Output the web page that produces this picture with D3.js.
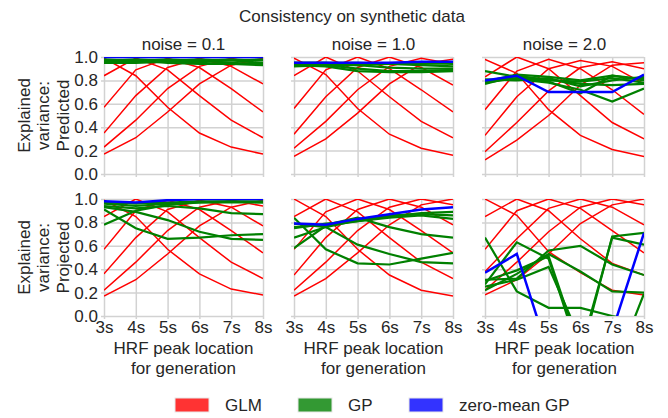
<!DOCTYPE html>
<html>
<head>
<meta charset="utf-8">
<script src="https://cdn.jsdelivr.net/npm/d3@7"></script>
<style>
  body { margin: 0; background: #fff; }
  text { font-family: "Liberation Sans", Arial, sans-serif; fill: #262626; }
  .grid line { stroke: #d2d2d2; stroke-width: 1.5; }
  .grid path { display: none; }
</style>
</head>
<body>
<div id="chart"></div>
<script>
// chart data
var peaks = [3, 4, 5, 6, 7, 8];
var xTickLabels = ["3s", "4s", "5s", "6s", "7s", "8s"];
var yTicks = [0, 0.2, 0.4, 0.6, 0.8, 1.0];
var noiseLabels = ["noise = 0.1", "noise = 1.0", "noise = 2.0"];
var rowLabels = ["Predicted", "Projected"];
var legendNames = ["GLM", "GP", "zero-mean GP"];

// GLM: one line per assumed peak (3s..8s), values at generation peak 3s..8s
var glmPred01 = [
  [0.99, 0.84, 0.57, 0.35, 0.23, 0.17],
  [0.84, 0.99, 0.89, 0.67, 0.46, 0.31],
  [0.57, 0.89, 0.99, 0.91, 0.73, 0.53],
  [0.35, 0.67, 0.91, 0.99, 0.92, 0.77],
  [0.23, 0.46, 0.73, 0.92, 0.99, 0.93],
  [0.17, 0.31, 0.53, 0.77, 0.93, 0.99]
];
var glmPred10 = [
  [0.99, 0.85, 0.56, 0.34, 0.22, 0.16],
  [0.84, 1.00, 0.88, 0.66, 0.45, 0.31],
  [0.56, 0.89, 1.00, 0.90, 0.72, 0.53],
  [0.34, 0.66, 0.91, 1.00, 0.91, 0.76],
  [0.22, 0.45, 0.72, 0.92, 0.99, 0.94],
  [0.15, 0.30, 0.52, 0.77, 0.94, 0.98]
];
var glmPred20 = [
  [0.98, 0.86, 0.55, 0.33, 0.21, 0.15],
  [0.83, 1.00, 0.90, 0.67, 0.44, 0.30],
  [0.55, 0.88, 0.98, 0.90, 0.72, 0.51],
  [0.33, 0.66, 0.90, 0.97, 0.92, 0.77],
  [0.19, 0.44, 0.71, 0.91, 0.96, 0.90],
  [0.12, 0.29, 0.50, 0.76, 0.93, 0.95]
];
var glmProj01 = [
  [0.99, 0.85, 0.57, 0.36, 0.23, 0.18],
  [0.85, 1.00, 0.89, 0.67, 0.46, 0.32],
  [0.57, 0.90, 0.99, 0.91, 0.73, 0.54],
  [0.36, 0.67, 0.91, 0.99, 0.93, 0.77],
  [0.22, 0.46, 0.73, 0.93, 0.99, 0.94],
  [0.17, 0.31, 0.53, 0.77, 0.93, 0.99]
];
var glmProj10 = [
  [1.00, 0.85, 0.57, 0.35, 0.22, 0.17],
  [0.85, 1.00, 0.89, 0.67, 0.46, 0.32],
  [0.57, 0.89, 1.00, 0.91, 0.73, 0.54],
  [0.35, 0.67, 0.91, 1.00, 0.93, 0.78],
  [0.22, 0.46, 0.73, 0.93, 1.00, 0.95],
  [0.17, 0.32, 0.54, 0.78, 0.95, 1.00]
];
var glmProj20 = [
  [1.00, 0.86, 0.55, 0.37, 0.22, 0.18],
  [0.85, 1.00, 0.90, 0.66, 0.45, 0.35],
  [0.57, 0.90, 1.00, 0.92, 0.73, 0.54],
  [0.38, 0.66, 0.92, 1.00, 0.93, 0.78],
  [0.22, 0.46, 0.72, 0.93, 1.00, 0.95],
  [0.18, 0.31, 0.53, 0.79, 0.95, 1.00]
];

// GP: six runs per panel
var gpPred01 = [
  [0.98, 0.97, 0.95, 0.94, 0.94, 0.93],
  [0.97, 0.98, 0.97, 0.95, 0.94, 0.94],
  [0.96, 0.97, 0.98, 0.97, 0.95, 0.94],
  [0.96, 0.96, 0.97, 0.98, 0.97, 0.95],
  [0.95, 0.96, 0.96, 0.97, 0.98, 0.97],
  [0.95, 0.95, 0.96, 0.96, 0.97, 0.98]
];
var gpPred10 = [
  [0.93, 0.92, 0.88, 0.87, 0.87, 0.88],
  [0.94, 0.93, 0.90, 0.88, 0.88, 0.89],
  [0.95, 0.95, 0.93, 0.91, 0.90, 0.90],
  [0.95, 0.95, 0.95, 0.94, 0.93, 0.92],
  [0.93, 0.94, 0.94, 0.94, 0.95, 0.94],
  [0.92, 0.93, 0.93, 0.94, 0.94, 0.95]
];
var gpPred20 = [
  [0.88, 0.83, 0.81, 0.77, 0.76, 0.77],
  [0.79, 0.85, 0.83, 0.80, 0.84, 0.81],
  [0.78, 0.82, 0.79, 0.69, 0.84, 0.80],
  [0.80, 0.81, 0.78, 0.72, 0.62, 0.73],
  [0.77, 0.84, 0.80, 0.79, 0.82, 0.78],
  [0.81, 0.80, 0.82, 0.75, 0.80, 0.83]
];
var gpProj01 = [
  [0.78, 0.90, 0.95, 0.97, 0.97, 0.97],
  [0.91, 0.75, 0.66, 0.67, 0.69, 0.70],
  [0.93, 0.89, 0.82, 0.72, 0.66, 0.65],
  [0.94, 0.92, 0.94, 0.92, 0.88, 0.87],
  [0.96, 0.94, 0.96, 0.97, 0.98, 0.98],
  [0.97, 0.96, 0.97, 0.98, 0.98, 0.97]
];
var gpProj10 = [
  [0.84, 0.57, 0.45, 0.44, 0.49, 0.54],
  [0.79, 0.76, 0.61, 0.53, 0.46, 0.45],
  [0.58, 0.77, 0.81, 0.85, 0.88, 0.89],
  [0.67, 0.76, 0.82, 0.86, 0.87, 0.86],
  [0.76, 0.78, 0.84, 0.76, 0.70, 0.67],
  [0.75, 0.79, 0.81, 0.84, 0.86, 0.83]
];
var gpProj20 = [
  [0.67, 0.21, 0.07, 0.07, 0.00, -0.05],
  [0.27, 0.63, 0.49, -0.35, 0.68, 0.71],
  [0.31, 0.32, 0.56, 0.60, 0.44, 0.35],
  [0.30, 0.39, 0.51, -0.30, 0.67, 0.61],
  [0.22, 0.36, 0.53, 0.38, 0.21, 0.20],
  [0.25, 0.31, 0.42, -0.20, -0.50, 0.19]
];

// zero-mean GP: one run per panel
var zmPred01 = [1.0, 1.0, 1.0, 1.0, 1.0, 1.0];
var zmPred10 = [0.95, 0.95, 0.95, 0.95, 0.96, 0.96];
var zmPred20 = [0.80, 0.84, 0.70, 0.70, 0.70, 0.85];
var zmProj01 = [0.98, 0.97, 0.99, 1.0, 1.0, 1.0];
var zmProj10 = [0.79, 0.78, 0.83, 0.87, 0.91, 0.93];
var zmProj20 = [0.37, 0.53, -0.32, -0.60, -0.13, 0.71];

var panels = [
  {row: 0, col: 0, glm: glmPred01, gp: gpPred01, zm: zmPred01},
  {row: 0, col: 1, glm: glmPred10, gp: gpPred10, zm: zmPred10},
  {row: 0, col: 2, glm: glmPred20, gp: gpPred20, zm: zmPred20},
  {row: 1, col: 0, glm: glmProj01, gp: gpProj01, zm: zmProj01},
  {row: 1, col: 1, glm: glmProj10, gp: gpProj10, zm: zmProj10},
  {row: 1, col: 2, glm: glmProj20, gp: gpProj20, zm: zmProj20}
];

var svgWidth = 668;
var svgHeight = 418;
var colLeft = [104, 294, 485];
var panelWidth = 159;
var rowTop = [57, 199];
var panelHeight = 117;
var colors = {glm: "#ff0000", gp: "#008000", zm: "#0000ff"};
var legendColors = ["#ff3333", "#339933", "#3333ff"];

var svg = d3.select("#chart")
  .append("svg")
  .attr("width", svgWidth)
  .attr("height", svgHeight);

svg.append("text")
  .attr("x", 352)
  .attr("y", 22)
  .attr("text-anchor", "middle")
  .style("font-size", "17px")
  .text("Consistency on synthetic data");

panels.forEach(function(p, i) {
  var left = colLeft[p.col];
  var top = rowTop[p.row];

  var x = d3.scaleLinear().domain([3, 8]).range([left, left + panelWidth]);
  var y = d3.scaleLinear().domain([0, 1]).range([top + panelHeight, top]);

  var yAxis = d3.axisLeft(y)
    .tickValues(yTicks)
    .tickSizeInner(-(panelWidth + 3))
    .tickSizeOuter(0)
    .tickPadding(3)
    .tickFormat(p.col == 0 ? d3.format(".1f") : "");
  svg.append("g")
    .attr("class", "grid")
    .attr("transform", `translate(${left - 3},0)`)
    .call(yAxis);

  var xAxis = d3.axisBottom(x)
    .tickValues(peaks)
    .tickSizeInner(-(panelHeight + 3))
    .tickSizeOuter(0)
    .tickPadding(2)
    .tickFormat(p.row == 1 ? function(d, k) { return xTickLabels[k]; } : "");
  svg.append("g")
    .attr("class", "grid")
    .attr("transform", `translate(0,${top + panelHeight + 3})`)
    .call(xAxis);

  svg.selectAll(".grid text")
    .style("font-size", "17px")
    .attr("fill", "#262626");

  var clipId = "clip" + i;
  svg.append("clipPath")
    .attr("id", clipId)
    .append("rect")
    .attr("x", left)
    .attr("y", top)
    .attr("width", panelWidth)
    .attr("height", panelHeight);

  var plot = svg.append("g").attr("clip-path", `url(#${clipId})`);

  var line = d3.line()
    .x(function(d, k) { return x(peaks[k]); })
    .y(function(d) { return y(d); });

  plot.selectAll(".glm")
    .data(p.glm)
    .enter()
    .append("path")
    .attr("d", line)
    .attr("fill", "none")
    .attr("stroke", colors.glm)
    .attr("stroke-width", 1.5);

  plot.selectAll(".gp")
    .data(p.gp)
    .enter()
    .append("path")
    .attr("d", line)
    .attr("fill", "none")
    .attr("stroke", colors.gp)
    .attr("stroke-width", 2.2);

  plot.append("path")
    .datum(p.zm)
    .attr("d", line)
    .attr("fill", "none")
    .attr("stroke", colors.zm)
    .attr("stroke-width", 2.5);

  if (p.row == 0) {
    svg.append("text")
      .attr("x", left + panelWidth / 2)
      .attr("y", 50)
      .attr("text-anchor", "middle")
      .style("font-size", "17px")
      .text(noiseLabels[p.col]);
  } else {
    svg.append("text")
      .attr("x", left + panelWidth / 2)
      .attr("y", 354)
      .attr("text-anchor", "middle")
      .style("font-size", "17px")
      .text("HRF peak location");
    svg.append("text")
      .attr("x", left + panelWidth / 2)
      .attr("y", 374)
      .attr("text-anchor", "middle")
      .style("font-size", "17px")
      .text("for generation");
  }

  if (p.col == 0) {
    var cy = top + panelHeight / 2;
    ["Explained", "variance:", rowLabels[p.row]].forEach(function(t, k) {
      svg.append("text")
        .attr("transform", `translate(${24 + k * 19.5},${cy}) rotate(-90)`)
        .attr("text-anchor", "middle")
        .attr("dy", "0.35em")
        .style("font-size", "17px")
        .text(t);
    });
  }
});

// legend
var legendX = [175, 298, 409];
legendNames.forEach(function(name, k) {
  svg.append("rect")
    .attr("x", legendX[k])
    .attr("y", 398)
    .attr("width", 34)
    .attr("height", 14)
    .attr("fill", legendColors[k])
    .attr("stroke", "#e8e8e8")
    .attr("stroke-width", 1);
  svg.append("text")
    .attr("x", legendX[k] + 50)
    .attr("y", 411)
    .style("font-size", "17px")
    .text(name);
});
</script>
</body>
</html>
